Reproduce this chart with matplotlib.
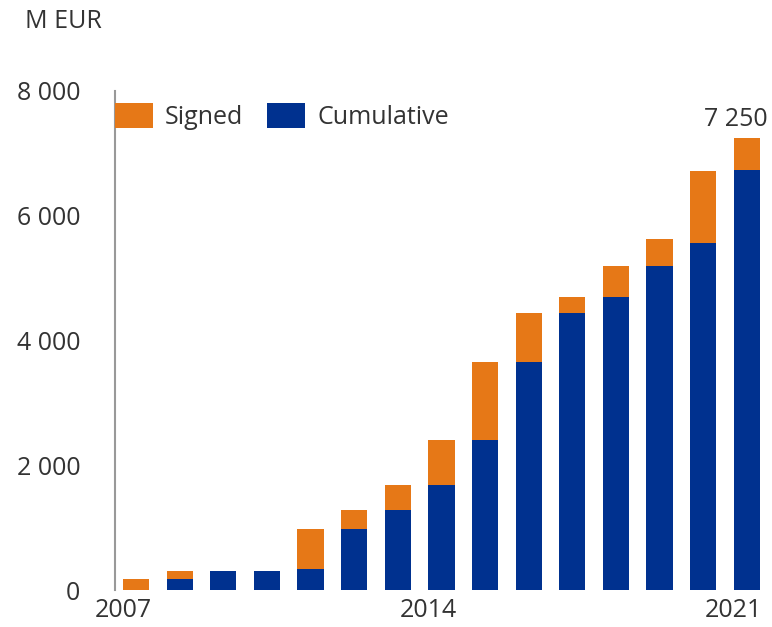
import matplotlib.pyplot as plt
import matplotlib.transforms as mtransforms

years = list(range(2007, 2022))
cumulative = [0, 180, 300, 300, 330, 980, 1280, 1690, 2400, 3650, 4440, 4700, 5190, 5560, 6730]
signed = [180, 120, 0, 0, 650, 300, 410, 710, 1250, 790, 260, 490, 440, 1160, 520]
tick_years = [2007, 2014, 2021]
total_label = "7 250"

orange = "#E67817"
blue = "#00318F"
txt = "#333333"
fs = 18

plt.rcParams['font.family'] = ['Open Sans', 'DejaVu Sans']

fig = plt.figure(figsize=(7.72, 6.27), dpi=100)
ax = fig.add_axes([0.149, 0.059, 0.845, 0.796])

ax.bar(years, cumulative, width=0.6, color=blue, label="Cumulative")
ax.bar(years, signed, width=0.6, bottom=cumulative, color=orange, label="Signed")

ax.set_ylim(0, 8000)
ax.set_xlim(2007 - 0.48, 2021 + 0.47)
ax.set_yticks([0, 2000, 4000, 6000, 8000])
ax.set_yticklabels(["0", "2 000", "4 000", "6 000", "8 000"])
ax.set_xticks(tick_years)
ax.set_xticklabels([str(y) for y in tick_years])
ax.tick_params(axis='both', length=0, labelsize=fs, colors=txt)
ax.tick_params(axis='y', pad=25)
ax.tick_params(axis='x', pad=6)

# x labels sit a little left of the bar centres in the original
shift = mtransforms.ScaledTranslation(-13 / 100, 0, fig.dpi_scale_trans)
for lab in ax.get_xticklabels():
    lab.set_transform(lab.get_transform() + shift)

for s in ['top', 'right', 'bottom']:
    ax.spines[s].set_visible(False)
ax.spines['left'].set_color('#999999')
ax.spines['left'].set_linewidth(1.5)

handles, labels = ax.get_legend_handles_labels()
ax.legend(handles[::-1], labels[::-1], loc='upper left', bbox_to_anchor=(0.0, 0.976),
          ncol=2, frameon=False, fontsize=fs, handlelength=1.52, handleheight=1.16,
          handletextpad=0.48, columnspacing=0.96, borderaxespad=0, borderpad=0,
          labelcolor=txt)

ax.text(2021 + 0.47, 7250 + 90, total_label, ha='right', va='bottom', fontsize=fs, color=txt)
fig.text(25 / 772, 1 - 21 / 627, "M EUR", ha='left', va='center', fontsize=fs, color=txt)

fig.savefig("out.png", dpi=100)
